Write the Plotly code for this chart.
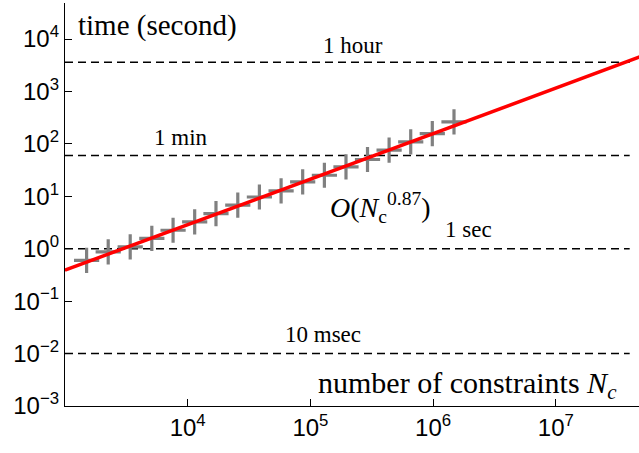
import math
import plotly.graph_objects as go

# measured data: number of constraints vs. time (seconds)
n_constraints = [1.5e3, 2.25e3, 3.4e3, 5.1e3, 7.6e3, 1.14e4, 1.7e4, 2.56e4, 3.84e4,
                 5.77e4, 8.65e4, 1.3e5, 1.95e5, 2.92e5, 4.38e5, 6.57e5, 9.85e5, 1.48e6]
time_sec = [0.60, 0.87, 1.08, 1.57, 2.25, 3.25, 4.69, 6.76, 9.7,
            12.7, 18.8, 25.2, 36.3, 50.3, 75.7, 109, 157, 262]

# fitted O(N^0.87) line end points
fit_n = [1e3, 5e7]
fit_t = [0.39, 4700]

# reference time levels
level_values = [3600, 60, 1, 0.01]
level_labels = ["1 hour", "1 min", "1 sec", "10 msec"]
level_label_x = [2.21e5, 8.75e3, 1.95e6, 1.26e5]
level_label_y = [10**3.88, 130, 2.3, 0.0228]
level_span = [1e3, 4e7]

x_tickvals = [1e4, 1e5, 1e6, 1e7]
x_ticktext = ["10<sup>4</sup>", "10<sup>5</sup>", "10<sup>6</sup>", "10<sup>7</sup>"]
y_tickvals = [1e-3, 1e-2, 1e-1, 1e0, 1e1, 1e2, 1e3, 1e4]
y_ticktext = ["10<sup>−3</sup>", "10<sup>−2</sup>", "10<sup>−1</sup>", "10<sup>0</sup>",
              "10<sup>1</sup>", "10<sup>2</sup>", "10<sup>3</sup>", "10<sup>4</sup>"]

serif = "Liberation Serif, Times New Roman, serif"
sans = "Liberation Sans, Arial, Helvetica, sans-serif"

L = math.log10  # annotations on log axes use log10 coordinates

fig = go.Figure()

for v in level_values:
    fig.add_trace(go.Scatter(x=level_span, y=[v, v], mode="lines",
                             line=dict(color="black", width=1.5, dash="8px,5px"),
                             showlegend=False, hoverinfo="skip"))

fig.add_trace(go.Scatter(x=n_constraints, y=time_sec, mode="markers",
                         marker=dict(symbol="cross-thin", size=18,
                                     line=dict(color="rgb(128,128,128)", width=3.2)),
                         showlegend=False))

fig.add_trace(go.Scatter(x=fit_n, y=fit_t, mode="lines",
                         line=dict(color="rgb(255,0,0)", width=3.5),
                         showlegend=False))

for lab, lx, ly in zip(level_labels, level_label_x, level_label_y):
    fig.add_annotation(x=L(lx), y=L(ly), xref="x", yref="y", text=lab, showarrow=False,
                       xanchor="center", yanchor="middle",
                       font=dict(family=serif, size=23, color="black"))

fig.add_annotation(x=L(5.63e3), y=L(1.83e4), xref="x", yref="y", text="time (second)",
                   showarrow=False, xanchor="center", yanchor="middle",
                   font=dict(family=serif, size=29, color="black"))
fig.add_annotation(x=L(1.92e6), y=L(0.00249), xref="x", yref="y",
                   text="number of constraints <i>N<sub>c</sub></i>",
                   showarrow=False, xanchor="center", yanchor="middle",
                   font=dict(family=serif, size=30, color="black"))
fig.add_annotation(x=L(3.74e5), y=L(6.1), xref="x", yref="y",
                   text="<i>O</i>(<i>N</i><sub>c</sub><sup>0.87</sup>)",
                   showarrow=False, xanchor="center", yanchor="middle",
                   font=dict(family=serif, size=28, color="black"))

fig.update_xaxes(type="log", range=[3, 7.678], tickvals=x_tickvals, ticktext=x_ticktext,
                 showline=True, linecolor="black", linewidth=1.3, ticks="inside",
                 ticklen=7, tickwidth=1.3, tickcolor="black", showgrid=False,
                 zeroline=False, tickfont=dict(family=sans, size=24, color="black"))
fig.update_yaxes(type="log", range=[-3, 4.687], tickvals=y_tickvals, ticktext=y_ticktext,
                 showline=True, linecolor="black", linewidth=1.3, ticks="inside",
                 ticklen=7, tickwidth=1.3, tickcolor="black", showgrid=False,
                 zeroline=False, tickfont=dict(family=sans, size=24, color="black"))

fig.update_layout(width=639, height=453, margin=dict(l=65, r=0, t=3, b=47),
                  plot_bgcolor="white", paper_bgcolor="white", showlegend=False)

fig.write_html("out.html")
